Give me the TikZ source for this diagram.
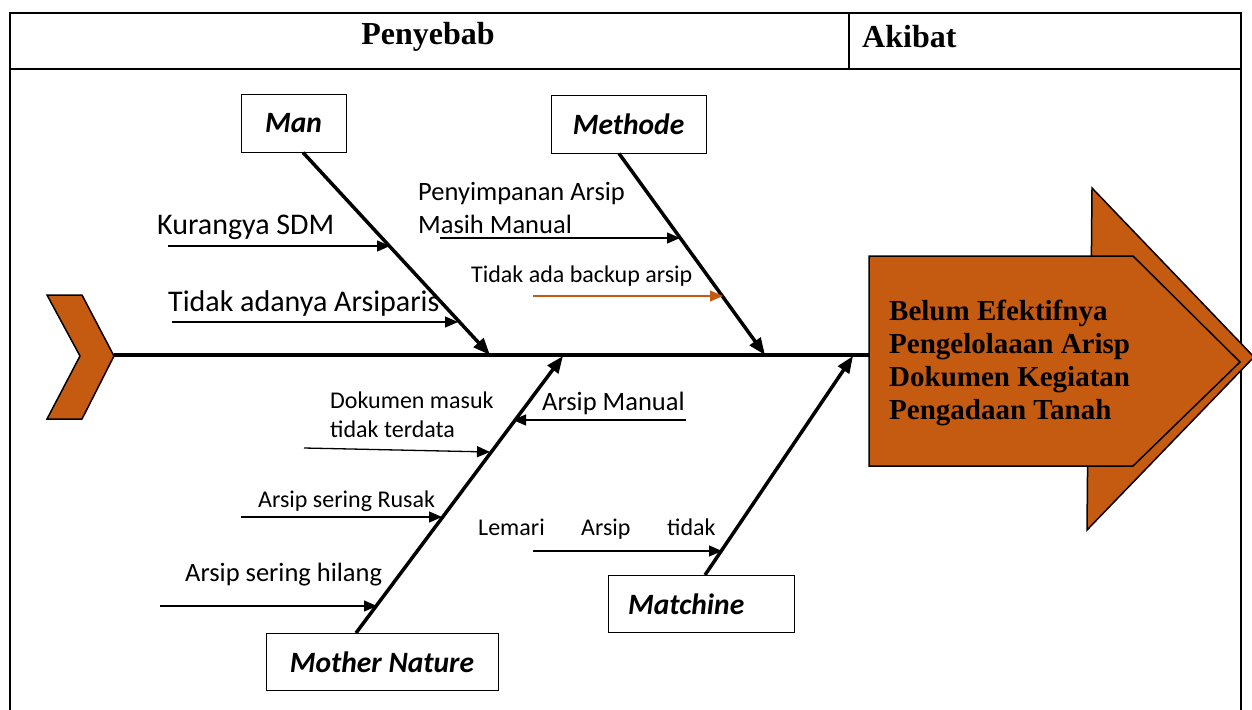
\documentclass[tikz,border=0pt]{standalone}
\usepackage{fontspec}
\setmainfont{Liberation Serif}
\newfontfamily\carl{Carlito}
\usetikzlibrary{arrows.meta}
\definecolor{rust}{HTML}{C55A11}
\tikzset{
  catbox/.style={draw, line width=1pt, inner sep=0pt, font=\carl\bfseries\itshape\fontsize{29.5}{32}\selectfont},
  bone/.style={line width=3.5pt, -{Triangle[length=17pt,width=13pt]}},
  sub/.style={line width=1.3pt, -{Triangle[length=13pt,width=11pt]}},
  xlbl/.style={anchor=base west, inner sep=0pt, font=\carl\fontsize{30}{34}\selectfont},
  lbl/.style={anchor=base west, inner sep=0pt, font=\carl\fontsize{26.5}{30}\selectfont},
  slbl/.style={anchor=base west, inner sep=0pt, font=\carl\fontsize{24}{28}\selectfont},
  head/.style={inner sep=0pt, font=\bfseries\fontsize{32}{36}\selectfont},
  frame/.style={line width=2pt},
}
\begin{document}
\begin{tikzpicture}[x=1pt,y=-1pt]
\useasboundingbox (0,0) rectangle (1252,709);
% table
\draw[frame] (10,720) -- (10,13) -- (1241,13) -- (1241,720);
\draw[frame] (10,69) -- (1241,69);
\draw[line width=1.2pt] (849,13) -- (849,69);
\node[head] (cause) at (428,37) {Penyebab};
\node[head, anchor=west] (effecthead) at (862,37) {Akibat};
% left chevron
\draw[fill=rust, line width=1.5pt, line join=miter] (47,295) -- (82,295) -- (114,356) -- (82,419) -- (47,419) -- (80,356) -- cycle;
% big arrow (back)
\draw[fill=rust, line width=1.5pt, line join=miter] (1091,300) -- (1092,188) -- (1254,357) -- (1087,530) -- (1088,420) -- cycle;
% big arrow (front)
\draw[fill=rust, line width=1.5pt, line join=miter] (869,256) -- (1133,256) -- (1240,362) -- (1133,466) -- (869,466) -- cycle;
\node[anchor=west, inner sep=0pt, align=left, font=\bfseries\fontsize{29}{33}\selectfont] (effect) at (889,363)
  {Belum Efektifnya\\Pengelolaaan Arisp\\Dokumen Kegiatan\\Pengadaan Tanah};
% spine
\coordinate (spineL) at (114,355);
\coordinate (spineR) at (869,355);
\draw[line width=3.5pt] (spineL) -- (spineR);
% category boxes
\node[catbox, minimum width=105pt, minimum height=58pt] (man) at (293.5,123) {Man};
\node[catbox, minimum width=155pt, minimum height=58pt] (meth) at (628.5,124) {Methode};
\node[catbox, minimum height=57pt, text width=146pt, inner xsep=20pt, align=left] (mach) at (701,604) {Matchine};
\node[catbox, minimum width=232pt, minimum height=57pt] (mn) at (382,662) {Mother Nature};
% bone ends on spine
\coordinate (manE) at (490,355);
\coordinate (methE) at (765,355);
\coordinate (mnE) at (563,356);
\coordinate (machE) at (853,356);
\draw[bone] ([xshift=9.5pt]man.south) -- (manE);
\draw[bone] ([xshift=-9.5pt]meth.south) -- (methE);
\draw[bone] ([xshift=-26pt]mn.north) -- (mnE);
\draw[bone] ([xshift=4pt]mach.north) -- (machE);
% Man causes
\node[xlbl] (c1) at (157,234) {Kurangya SDM};
\coordinate (c1s) at (168,246); \coordinate (c1e) at (390,246);
\draw[sub] (c1s) -- (c1e);
\node[xlbl] (c2) at (168,311) {Tidak adanya Arsiparis};
\coordinate (c2s) at (172,322); \coordinate (c2e) at (458,322);
\draw[sub] (c2s) -- (c2e);
% Methode causes
\node[lbl] (c3a) at (418,200.5) {Penyimpanan Arsip};
\node[lbl] (c3b) at (418,233.5) {Masih Manual};
\coordinate (c3s) at (440,238); \coordinate (c3e) at (680,238);
\draw[sub] (c3s) -- (c3e);
\node[slbl] (c4) at (471,282.5) {Tidak ada backup arsip};
\coordinate (c4s) at (533,296); \coordinate (c4e) at (723,296);
\draw[sub, draw=rust, fill=rust] (c4s) -- (c4e);
% Mother Nature causes
\node[slbl] (c5a) at (330,408.5) {Dokumen masuk};
\node[slbl] (c5b) at (330,437.5) {tidak terdata};
\coordinate (c5s) at (304,448); \coordinate (c5e) at (490,452);
\draw[sub] (c5s) -- (c5e);
\node[lbl] (c6) at (542,410.5) {Arsip Manual};
\coordinate (c6s) at (686,420); \coordinate (c6e) at (513,420);
\draw[sub] (c6s) -- (c6e);
\node[slbl] (c7) at (258,507.5) {Arsip sering Rusak};
\coordinate (c7s) at (241,517); \coordinate (c7e) at (442,517);
\draw[sub] (c7s) -- (c7e);
\node[lbl] (c8) at (185,581.5) {Arsip sering hilang};
\coordinate (c8s) at (160,606); \coordinate (c8e) at (377,606);
\draw[sub] (c8s) -- (c8e);
% Matchine causes
\node[slbl] (c9a) at (478,535.5) {Lemari};
\node[slbl] (c9b) at (581,535.5) {Arsip};
\node[slbl] (c9c) at (667,535.5) {tidak};
\coordinate (c9s) at (533,551); \coordinate (c9e) at (722,551);
\draw[sub] (c9s) -- (c9e);
\end{tikzpicture}
\end{document}
